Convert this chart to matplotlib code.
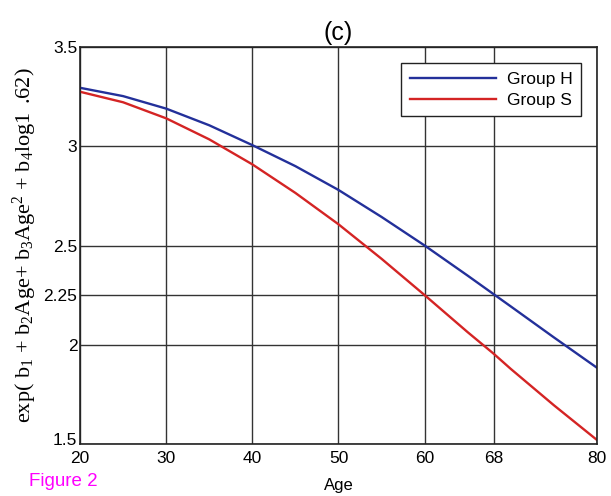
import numpy as np
import matplotlib
matplotlib.use("Agg")
import matplotlib.pyplot as plt
import matplotlib.transforms as mtransforms

# data
age = [20, 25, 30, 35, 40, 45, 50, 55, 60, 65, 68, 70, 75, 80]
group_h = [3.295, 3.253, 3.19, 3.106, 3.006, 2.90, 2.78, 2.644, 2.50, 2.348, 2.255, 2.193, 2.037, 1.884]
group_s = [3.275, 3.222, 3.141, 3.035, 2.909, 2.765, 2.607, 2.433, 2.25, 2.063, 1.955, 1.878, 1.695, 1.52]
x_ticks = [20, 30, 40, 50, 60, 68, 80]
y_ticks = [1.5, 2, 2.25, 2.5, 3, 3.5]
y_tick_labels = ["1.5", "2", "2.25", "2.5", "3", "3.5"]

plt.rcParams['font.family'] = ['Liberation Sans', 'DejaVu Sans']
plt.rcParams['mathtext.fontset'] = 'custom'
plt.rcParams['mathtext.rm'] = 'Liberation Serif'
plt.rcParams['mathtext.it'] = 'Liberation Serif:italic'

fig = plt.figure(figsize=(6.11, 4.96), dpi=100)
ax = fig.add_axes([0.131, 0.105, 0.846, 0.800])

ax.plot(age, group_h, color='#23309a', lw=1.7, label='Group H')
ax.plot(age, group_s, color='#d42424', lw=1.7, label='Group S')

ax.set_xlim(20, 80)
ax.set_ylim(1.5, 3.5)
ax.set_xticks(x_ticks)
ax.set_yticks(y_ticks)
ax.set_yticklabels(y_tick_labels)
ax.tick_params(length=0, labelsize=12.5)
ax.tick_params(axis='x', pad=5)
ax.tick_params(axis='y', pad=2)
ax.grid(True, color='#333333', lw=1.0)
for s in ax.spines.values():
    s.set_linewidth(1.2)
    s.set_color('#222222')

# geser label 1.5 sedikit ke atas supaya tidak menabrak 20
lbl = ax.get_yticklabels()[0]
lbl.set_transform(lbl.get_transform() + mtransforms.ScaledTranslation(0, 5 / 100, fig.dpi_scale_trans))

ax.set_title('(c)', fontsize=18, pad=5)
ax.set_xlabel('Age', fontsize=12, labelpad=9)
ax.set_ylabel(r'exp( b$_1$ + b$_2$Age+ b$_3$Age$^2$ + b$_4$log1 $\,$.62)',
              family='Liberation Serif', fontsize=16, labelpad=3)

leg = ax.legend(loc='upper right', fontsize=12.5, fancybox=False, framealpha=1,
                edgecolor='#222222', handlelength=5.0, borderaxespad=0.9,
                borderpad=0.5, labelspacing=0.35, handletextpad=0.6)
leg.get_frame().set_linewidth(1.0)

fig.text(0.047, 0.02, 'Figure 2', color='#ff00ff', fontsize=13.5)

fig.savefig('out.png', dpi=100)
